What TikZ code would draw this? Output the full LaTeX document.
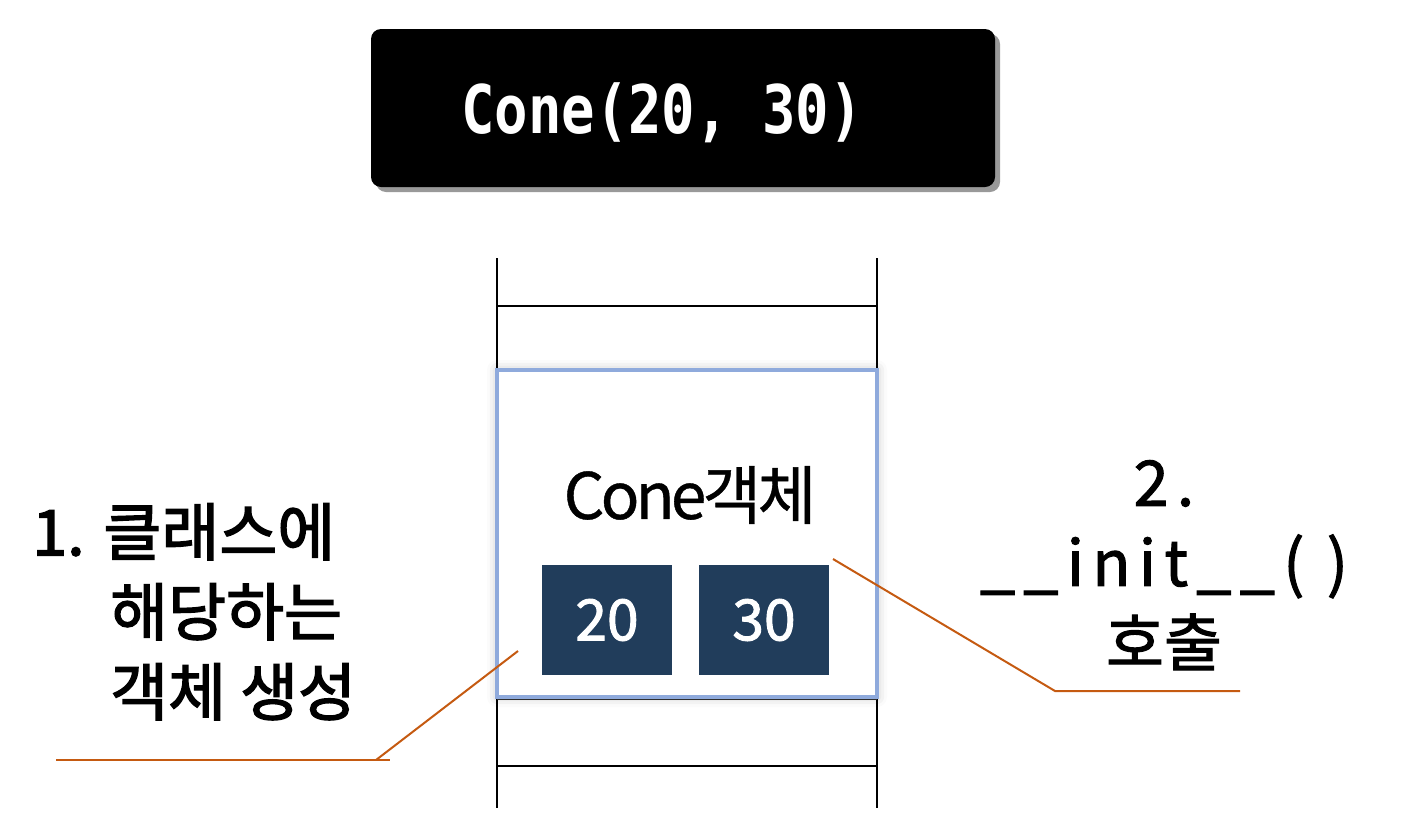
\documentclass[tikz,border=0pt]{standalone}
\usepackage{fontspec}
\setmainfont{Noto Sans CJK KR}
\newfontfamily\titlefont{DejaVu Sans Mono}
\newfontfamily\leftfont[FakeBold=2.2]{Noto Sans CJK KR}
\newfontfamily\rightfont[FakeBold=1.6]{Noto Sans CJK KR}
\newfontfamily\spacedfont[LetterSpace=13,FakeBold=1.6]{Noto Sans CJK KR}
\newfontfamily\tightfont[LetterSpace=-6,FakeBold=0.6]{Noto Sans CJK KR}
\usetikzlibrary{shadows,shadows.blur}
\definecolor{navy}{HTML}{213D5B}
\definecolor{bluebd}{HTML}{8FAADC}
\definecolor{callout}{HTML}{C55A11}
\tikzset{
  struct/.style={draw=black, line width=2.4pt},
  titlebox/.style={fill=black, rounded corners=10pt, minimum width=624pt, minimum height=158pt,
    drop shadow={shadow xshift=5pt, shadow yshift=-5pt, fill=black!40, opacity=1}},
  objbox/.style={draw=bluebd, line width=4pt, fill=white, minimum width=380pt, minimum height=327pt,
    blur shadow={shadow xshift=0pt, shadow yshift=0pt, shadow blur radius=10pt, shadow opacity=25}},
  valbox/.style={fill=navy, text=white, minimum width=130pt, minimum height=110pt, inner sep=0pt,
    font=\rightfont\fontsize{57}{60}\selectfont},
  calline/.style={draw=callout, line width=2pt},
  leftlabel/.style={inner sep=0pt, font=\leftfont\fontsize{63}{80}\selectfont},
  rightlabel/.style={inner sep=0pt, font=\rightfont\fontsize{63}{80}\selectfont}
}
\begin{document}
\begin{tikzpicture}[x=1pt,y=-1pt]
\useasboundingbox (0,0) rectangle (1423,838);
% title
\node[titlebox] (title) at (683,108) {};
\node[text=white, inner sep=0pt, font=\titlefont\bfseries\fontsize{67}{70}\selectfont] (titletext) at (662,113) {\scalebox{0.83}[1]{Cone(20, 30)}};
% structure lines
\draw[struct] (497,258) -- (497,808);
\draw[struct] (877,258) -- (877,808);
\draw[struct] (497,306) -- (877,306);
\draw[struct] (497,766) -- (877,766);
\draw[draw=black!80, line width=1.5pt] (497,699) -- (877,699);
% object box
\node[objbox] (obj) at (687,533.5) {};
\node[inner sep=0pt, font=\tightfont\fontsize{64}{70}\selectfont] (objname) at (690,495) {Cone객체};
\node[valbox] (v20) at (607,620) {20};
\node[valbox] (v30) at (764,620) {30};
% labels
\node[leftlabel, align=left, anchor=north west] (lab1) at (32,503) {1. 클래스에\\\hspace*{78pt}해당하는\\\hspace*{78pt}객체 생성};
\node[rightlabel, align=center, anchor=north] (lab2) at (1164,460) {{\spacedfont 2.}\\{\spacedfont \_\_init\_\_( )}\\호출};
% callouts
\coordinate (c1a) at (56,760);
\coordinate (c1b) at (390,760);
\coordinate (c1k) at (376,760);
\coordinate (c1t) at (518,651);
\draw[calline] (c1a) -- (c1b);
\draw[calline] (c1k) -- (c1t);
\coordinate (c2t) at (833,559);
\coordinate (c2k) at (1055,691);
\coordinate (c2b) at (1240,691);
\draw[calline] (c2t) -- (c2k) -- (c2b);
\end{tikzpicture}
\end{document}
